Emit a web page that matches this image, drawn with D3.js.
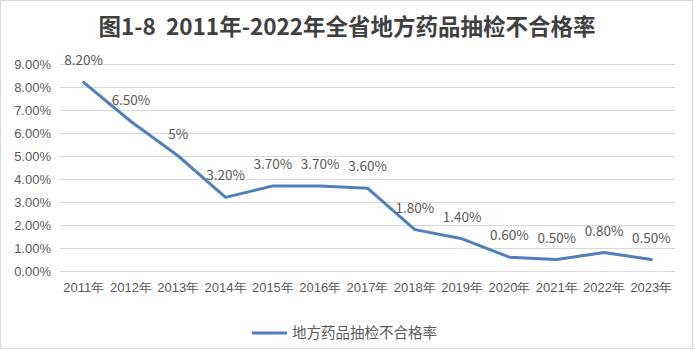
<!DOCTYPE html>
<html><head><meta charset="utf-8">
<script src="https://cdn.jsdelivr.net/npm/d3@7/dist/d3.min.js"></script>
<style>
html,body{margin:0;padding:0;background:#fff;}
svg{display:block;font-family:"Noto Sans CJK SC","Noto Sans",sans-serif;}
</style></head>
<body>
<svg id="chart" width="695" height="350"></svg>
<script>
const title = "图1-8\u00a0\u00a02011年-2022年全省地方药品抽检不合格率";
const seriesName = "地方药品抽检不合格率";
const years = ["2011年","2012年","2013年","2014年","2015年","2016年","2017年","2018年","2019年","2020年","2021年","2022年","2023年"];
const rates = [8.2, 6.5, 5, 3.2, 3.7, 3.7, 3.6, 1.8, 1.4, 0.6, 0.5, 0.8, 0.5];
const rateLabels = ["8.20%","6.50%","5%","3.20%","3.70%","3.70%","3.60%","1.80%","1.40%","0.60%","0.50%","0.80%","0.50%"];
const yTicks = [0,1,2,3,4,5,6,7,8,9];

const svg = d3.select("#chart");
const plot = {left: 60, right: 675, top: 64, bottom: 271};
const textColor = "#595959";

svg.append("rect").attr("x",0.5).attr("y",0.5).attr("width",692).attr("height",348)
  .attr("fill","#fff").attr("stroke","#d9d9d9");

svg.append("text").attr("x", 347).attr("y", 35).attr("text-anchor","middle")
  .attr("font-size", 22.5).attr("font-weight", "bold").attr("fill", "#404040").text(title);

const x = d3.scaleBand().domain(years).range([plot.left, plot.right]);
const y = d3.scaleLinear().domain([0, 9]).range([plot.bottom, plot.top]);

// gridlines
svg.append("g").selectAll("line").data(yTicks).join("line")
  .attr("x1", plot.left).attr("x2", plot.right)
  .attr("y1", d => Math.round(y(d)) + 0.5).attr("y2", d => Math.round(y(d)) + 0.5)
  .attr("stroke", "#d9d9d9").attr("stroke-width", 1);

// y axis
const yAxis = d3.axisLeft(y).tickValues(yTicks).tickFormat(d => d.toFixed(2) + "%").tickSize(0).tickPadding(9);
const gy = svg.append("g").attr("transform", `translate(${plot.left},0)`).call(yAxis);
gy.select(".domain").remove();
gy.selectAll("text").attr("font-size", 13).attr("fill", textColor).attr("font-family", "inherit");

// x axis
const xAxis = d3.axisBottom(x).tickSize(0).tickPadding(12);
const gx = svg.append("g").attr("transform", `translate(0,${plot.bottom})`).call(xAxis);
gx.select(".domain").remove();
gx.selectAll("text").attr("font-size", 13).attr("fill", textColor).attr("font-family", "inherit");

const cx = d => x(d) + x.bandwidth() / 2;
const lineColor = "#4f7fbd";

const line = d3.line().x((d, i) => cx(years[i])).y(d => y(d));
svg.append("path").datum(rates).attr("d", line)
  .attr("fill", "none").attr("stroke", lineColor).attr("stroke-width", 3)
  .attr("stroke-linejoin", "round").attr("stroke-linecap", "round");

// data labels
svg.append("g").selectAll("text").data(rates).join("text")
  .attr("x", (d, i) => cx(years[i]))
  .attr("y", d => y(d) - 17)
  .attr("text-anchor", "middle").attr("font-size", 13.5).attr("fill", textColor)
  .text((d, i) => rateLabels[i]);

// legend
const lg = svg.append("g");
lg.append("line").attr("x1", 252).attr("x2", 287).attr("y1", 333).attr("y2", 333)
  .attr("stroke", lineColor).attr("stroke-width", 3);
lg.append("text").attr("x", 292).attr("y", 338).attr("font-size", 14.5).attr("fill", textColor).text(seriesName);
</script>
</body></html>
